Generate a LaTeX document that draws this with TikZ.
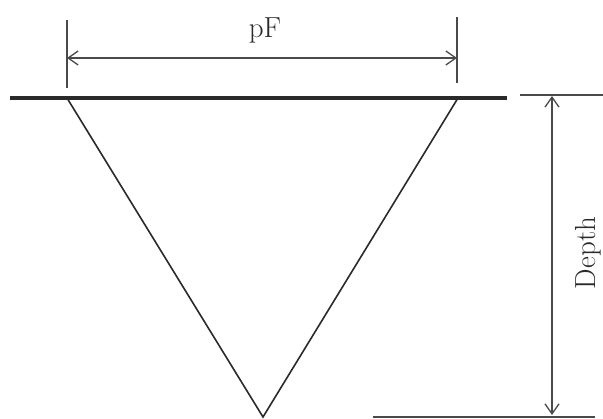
\documentclass[tikz,border=0pt]{standalone}
\usepackage{fontspec}
\usepackage{tikz}
\usetikzlibrary{arrows.meta,positioning}
\definecolor{ink}{HTML}{2A2A2A}
\definecolor{ink2}{HTML}{4A4A4A}
\tikzset{
  >={Straight Barb[length=10pt,width=14pt]},
  every picture/.style={line width=1.3pt,draw=ink},
  surf/.style={draw=ink,line width=3.6pt},
  edge/.style={draw=ink,line width=1.6pt},
  ext/.style={draw=ink2,line width=1.3pt},
  dim/.style={<->,draw=ink2,line width=1.3pt},
  lab/.style={font=\fontsize{29}{34}\selectfont,text=ink,inner sep=0pt},
}
\begin{document}
\begin{tikzpicture}[x=1pt,y=1pt]
  \useasboundingbox (0,0) rectangle (603,419);
  % corners of the groove
  \coordinate (tl) at (67,321);
  \coordinate (tr) at (458,321);
  \coordinate (tip) at (263,2);
  \coordinate (sl) at (10,321);
  \coordinate (sr) at (507,321);
  % extension line ends
  \coordinate (la) at (67,331);
  \coordinate (lb) at (67,399);
  \coordinate (ra) at (457,336);
  \coordinate (rb) at (457,402);
  \coordinate (ta) at (520,324);
  \coordinate (tb) at (603,324);
  \coordinate (ba) at (373,2);
  \coordinate (bb) at (595,2);
  \coordinate (wl) at (67,361);
  \coordinate (wr) at (457,361);
  \coordinate (dt) at (552,323);
  \coordinate (db) at (552,4);
  \draw[surf] (sl) -- (sr);
  \draw[edge] (tl) -- (tip) -- (tr);
  \draw[ext] (la) -- (lb);
  \draw[ext] (ra) -- (rb);
  \draw[ext] (ta) -- (tb);
  \draw[ext] (ba) -- (bb);
  \draw[dim] (wl) -- (wr);
  \draw[dim] (dt) -- (db);
  \node[lab] (pf) at (265,389) {pF};
  \node[lab,rotate=90] (depth) at (588,166) {Depth};
\end{tikzpicture}
\end{document}
